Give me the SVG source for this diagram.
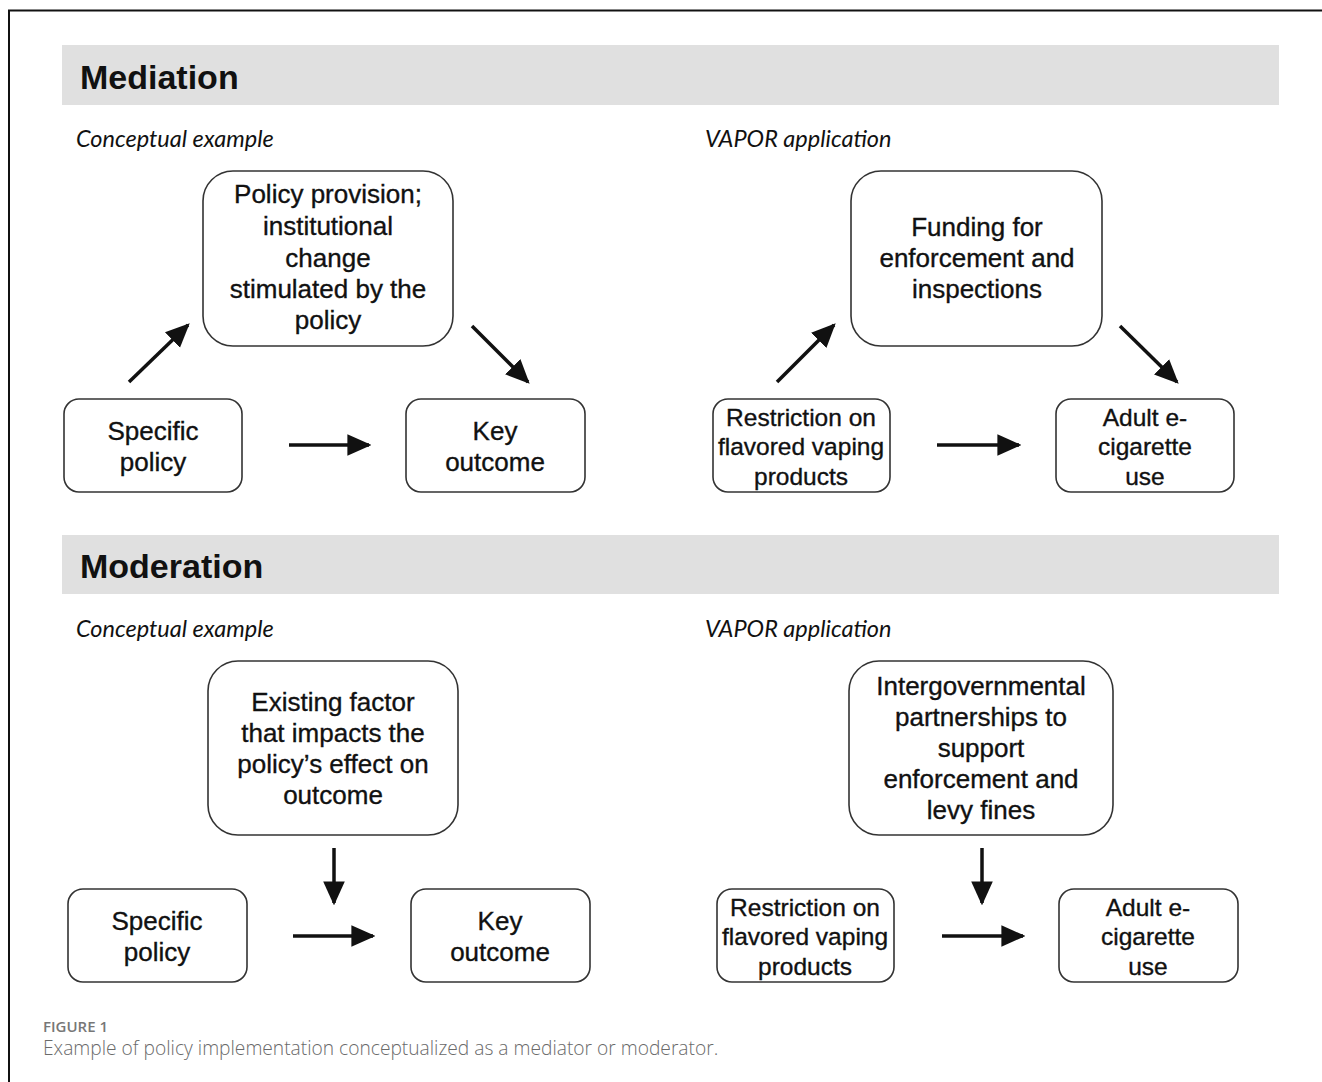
<svg xmlns="http://www.w3.org/2000/svg" width="1322" height="1082" viewBox="0 0 1322 1082">
<defs>
<style>
.band{fill:#e0e0e0}
.h{font-family:"Liberation Sans",Arial,sans-serif;font-weight:bold;font-size:34px;fill:#111}
.sub{font-family:Lato,"Open Sans",sans-serif;font-style:italic;font-size:23.5px;fill:#111}
.box{fill:#fff;stroke:#333;stroke-width:1.6}
.t{font-family:"Liberation Sans",Arial,sans-serif;font-size:26px;fill:#111;stroke:#111;stroke-width:0.35;text-anchor:middle}
.ts{font-family:"Liberation Sans",Arial,sans-serif;font-size:24.5px;fill:#111;stroke:#111;stroke-width:0.35;text-anchor:middle}
.ar{stroke:#111;stroke-width:3.5;fill:none;marker-end:url(#ah)}
.fig{font-family:"Open Sans",sans-serif;font-weight:600;font-size:15px;fill:#777}
.cap{font-family:"Open Sans",sans-serif;font-weight:300;font-size:19.2px;fill:#6a6a6a}
</style>
<marker id="ah" markerUnits="userSpaceOnUse" markerWidth="24" markerHeight="24" viewBox="0 0 20 20" refX="18" refY="10" orient="auto">
<path d="M0,1 L20,10 L0,19 Z" fill="#111"/>
</marker>
</defs>
<rect width="1322" height="1082" fill="#fff"/>
<path d="M9,1082 V10.5 H1322" fill="none" stroke="#111" stroke-width="2"/>

<g id="mediation-header">
<rect class="band" x="62" y="45" width="1217" height="60"/>
<text class="h" x="80" y="89">Mediation</text>
<text class="sub" x="76" y="147">Conceptual example</text>
<text class="sub" x="705" y="147">VAPOR application</text>
</g>
<g id="moderation-header">
<rect class="band" x="62" y="535" width="1217" height="59"/>
<text class="h" x="80" y="578">Moderation</text>
<text class="sub" x="76" y="637">Conceptual example</text>
<text class="sub" x="705" y="637">VAPOR application</text>
</g>

<g id="med-c-mediator">
<rect class="box" x="203" y="171" width="250" height="175" rx="30"/>
<text class="t"><tspan x="328" y="203">Policy provision;</tspan><tspan x="328" y="235">institutional</tspan><tspan x="328" y="267">change</tspan><tspan x="328" y="298">stimulated by the</tspan><tspan x="328" y="329">policy</tspan></text>
</g>
<g id="med-c-policy">
<rect class="box" x="64" y="399" width="178" height="93" rx="15"/>
<text class="t"><tspan x="153" y="440">Specific</tspan><tspan x="153" y="471">policy</tspan></text>
</g>
<g id="med-c-outcome">
<rect class="box" x="406" y="399" width="179" height="93" rx="15"/>
<text class="t"><tspan x="495" y="440">Key</tspan><tspan x="495" y="471">outcome</tspan></text>
</g>

<g id="med-v-mediator">
<rect class="box" x="851" y="171" width="251" height="175" rx="30"/>
<text class="t"><tspan x="977" y="236">Funding for</tspan><tspan x="977" y="267">enforcement and</tspan><tspan x="977" y="298">inspections</tspan></text>
</g>
<g id="med-v-policy">
<rect class="box" x="713" y="399" width="177" height="93" rx="15"/>
<text class="ts"><tspan x="801" y="426">Restriction on</tspan><tspan x="801" y="455">flavored vaping</tspan><tspan x="801" y="485">products</tspan></text>
</g>
<g id="med-v-outcome">
<rect class="box" x="1056" y="399" width="178" height="93" rx="15"/>
<text class="ts"><tspan x="1145" y="426">Adult e-</tspan><tspan x="1145" y="455">cigarette</tspan><tspan x="1145" y="485">use</tspan></text>
</g>

<g id="mod-c-moderator">
<rect class="box" x="208" y="661" width="250" height="174" rx="30"/>
<text class="t"><tspan x="333" y="711">Existing factor</tspan><tspan x="333" y="742">that impacts the</tspan><tspan x="333" y="773">policy’s effect on</tspan><tspan x="333" y="804">outcome</tspan></text>
</g>
<g id="mod-c-policy">
<rect class="box" x="68" y="889" width="179" height="93" rx="15"/>
<text class="t"><tspan x="157" y="930">Specific</tspan><tspan x="157" y="961">policy</tspan></text>
</g>
<g id="mod-c-outcome">
<rect class="box" x="411" y="889" width="179" height="93" rx="15"/>
<text class="t"><tspan x="500" y="930">Key</tspan><tspan x="500" y="961">outcome</tspan></text>
</g>

<g id="mod-v-moderator">
<rect class="box" x="849" y="661" width="264" height="174" rx="30"/>
<text class="t"><tspan x="981" y="695">Intergovernmental</tspan><tspan x="981" y="726">partnerships to</tspan><tspan x="981" y="757">support</tspan><tspan x="981" y="788">enforcement and</tspan><tspan x="981" y="819">levy fines</tspan></text>
</g>
<g id="mod-v-policy">
<rect class="box" x="717" y="889" width="177" height="93" rx="15"/>
<text class="ts"><tspan x="805" y="916">Restriction on</tspan><tspan x="805" y="945">flavored vaping</tspan><tspan x="805" y="975">products</tspan></text>
</g>
<g id="mod-v-outcome">
<rect class="box" x="1059" y="889" width="179" height="93" rx="15"/>
<text class="ts"><tspan x="1148" y="916">Adult e-</tspan><tspan x="1148" y="945">cigarette</tspan><tspan x="1148" y="975">use</tspan></text>
</g>

<g id="connectors">
<line class="ar" x1="129" y1="382" x2="188" y2="325"/>
<line class="ar" x1="472" y1="326" x2="528" y2="382"/>
<line class="ar" x1="289" y1="445" x2="369" y2="445"/>
<line class="ar" x1="777" y1="382" x2="834" y2="325"/>
<line class="ar" x1="1120" y1="326" x2="1177" y2="382"/>
<line class="ar" x1="937" y1="445" x2="1019" y2="445"/>
<line class="ar" x1="334" y1="848" x2="334" y2="903"/>
<line class="ar" x1="293" y1="936" x2="373" y2="936"/>
<line class="ar" x1="982" y1="848" x2="982" y2="903"/>
<line class="ar" x1="942" y1="936" x2="1023" y2="936"/>
</g>

<g id="caption">
<text class="fig" x="43" y="1032">FIGURE 1</text>
<text class="cap" x="43" y="1055">Example of policy implementation conceptualized as a mediator or moderator.</text>
</g>
</svg>
